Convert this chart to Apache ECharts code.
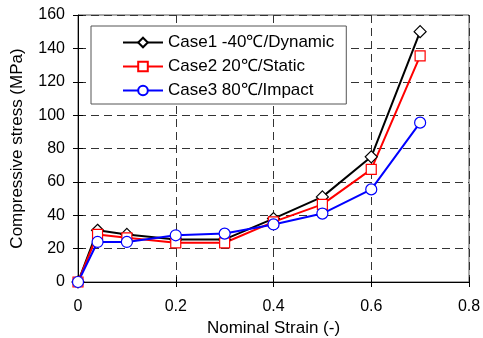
<!DOCTYPE html>
<html>
<head>
<meta charset="utf-8">
<script src="https://cdn.jsdelivr.net/npm/echarts@6/dist/echarts.min.js"></script>
<style>
  html, body { margin: 0; padding: 0; background: #fff; }
  #chart { width: 483px; height: 338px; }
</style>
</head>
<body>
<div id="chart"></div>
<script>
// strain values (x)
var strain = [0, 0.04, 0.1, 0.2, 0.3, 0.4, 0.5, 0.6, 0.7];
// stress values
var case1 = [0, 31, 28.5, 25.5, 25.5, 38, 51, 75, 150];
var case2 = [0, 28.5, 26.5, 23.5, 23.5, 36, 46.5, 67.5, 135.5];
var case3 = [0, 24, 24, 28, 29, 34.5, 41, 55.5, 95.5];
var names = ['Case1 -40\u2103/Dynamic', 'Case2 20\u2103/Static', 'Case3 80\u2103/Impact'];
var xTicks = [0, 0.2, 0.4, 0.6, 0.8];
var yTicks = [0, 20, 40, 60, 80, 100, 120, 140, 160];

function pairs(ys) {
    return strain.map(function (x, i) { return [x, ys[i]]; });
}

var font = 'Liberation Sans, Arial, sans-serif';
var dash = { color: '#333', type: [8, 5], width: 1 };

var chart = echarts.init(document.getElementById('chart'));
chart.setOption({
    animation: false,
    grid: {
        left: 78, right: 14, top: 15, bottom: 56,
        outerBoundsMode: 'none', containLabel: false,
        show: true, borderColor: '#555', borderWidth: 1
    },
    legend: {
        orient: 'vertical',
        left: 91, top: 26,
        itemWidth: 40, itemHeight: 12, itemGap: 7,
        padding: [8, 12, 5, 31],
        borderColor: '#555', borderWidth: 1,
        backgroundColor: '#fff',
        textStyle: { fontFamily: font, fontSize: 17, color: '#000' },
        data: names
    },
    xAxis: [{
        type: 'value', min: 0, max: 0.8, interval: 0.2,
        name: 'Nominal Strain (-)', nameLocation: 'middle', nameGap: 31,
        nameTextStyle: { fontFamily: font, fontSize: 17, color: '#000' },
        axisLine: { lineStyle: { color: '#000', width: 1 } },
        axisTick: { inside: true, length: 5, lineStyle: { color: '#000' } },
        axisLabel: {
            fontFamily: font, fontSize: 16, color: '#000', margin: 17,
            formatter: function (v) { return xTicks.indexOf(v) >= 0 ? String(v) : ''; }
        },
        splitLine: { show: true, lineStyle: dash }
    }, {
        type: 'value', min: 0, max: 0.8, interval: 0.2, position: 'top',
        axisLine: { show: false },
        axisTick: { inside: true, length: 5, lineStyle: { color: '#000' } },
        axisLabel: { show: false }, splitLine: { show: false }
    }],
    yAxis: [{
        type: 'value', min: 0, max: 160, interval: 20,
        name: 'Compressive stress (MPa)', nameLocation: 'middle', nameGap: 52,
        nameTextStyle: { fontFamily: font, fontSize: 17, color: '#000' },
        axisLine: { show: true, lineStyle: { color: '#000', width: 1 } },
        axisTick: { show: true, inside: true, length: 5, lineStyle: { color: '#000' } },
        axisLabel: {
            fontFamily: font, fontSize: 16, color: '#000', margin: 13,
            formatter: function (v) { return yTicks.indexOf(v) >= 0 ? String(v) : ''; }
        },
        splitLine: { show: true, lineStyle: dash }
    }, {
        type: 'value', min: 0, max: 160, interval: 20, position: 'right',
        axisLine: { show: false },
        axisTick: { show: true, inside: true, length: 5, lineStyle: { color: '#000' } },
        axisLabel: { show: false }, splitLine: { show: false }
    }],
    series: [
        {
            name: names[0], type: 'line', data: pairs(case1),
            symbol: 'diamond', symbolSize: 12,
            lineStyle: { color: '#000', width: 2 },
            itemStyle: { color: '#fff', borderColor: '#000', borderWidth: 1.2 }
        },
        {
            name: names[1], type: 'line', data: pairs(case2),
            symbol: 'rect', symbolSize: 10,
            lineStyle: { color: '#f00', width: 2 },
            itemStyle: { color: '#fff', borderColor: '#f00', borderWidth: 1.2 }
        },
        {
            name: names[2], type: 'line', data: pairs(case3),
            symbol: 'circle', symbolSize: 11,
            lineStyle: { color: '#00f', width: 2 },
            itemStyle: { color: '#fff', borderColor: '#00f', borderWidth: 1.2 }
        }
    ]
});
</script>
</body>
</html>
